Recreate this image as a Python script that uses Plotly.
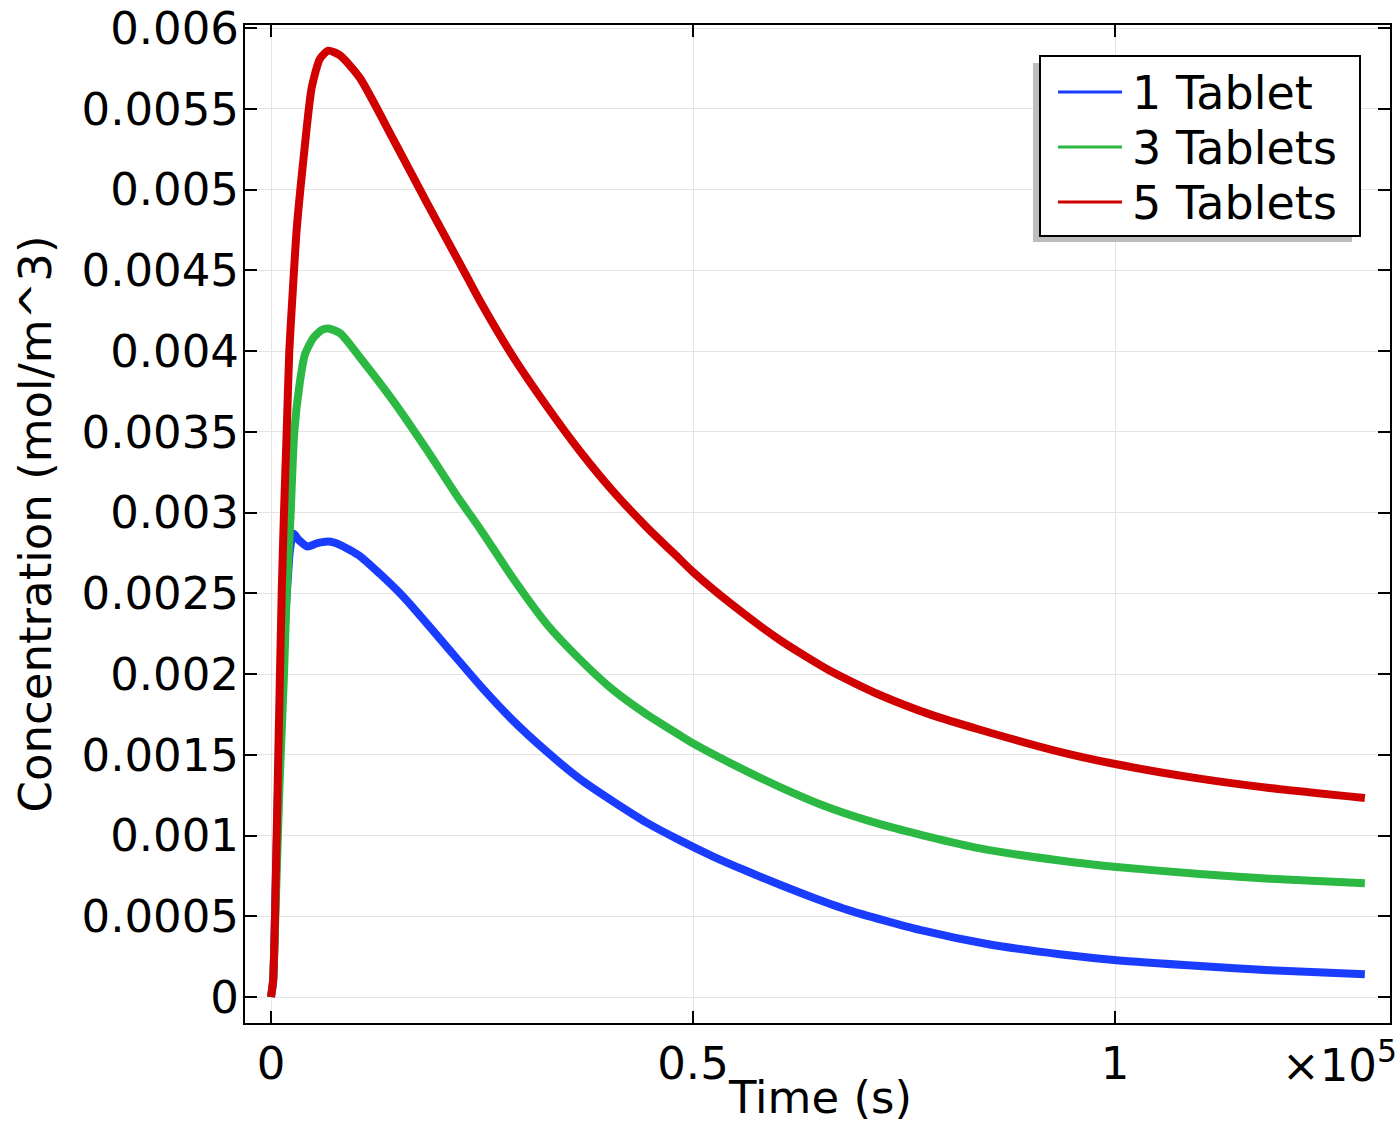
import plotly.graph_objects as go

# ---- data (time in s, concentration in mol/m^3) ----
t_red = [0, 250, 474, 865, 1268, 1540, 1860, 2168, 2520, 3040, 3830, 4820, 5800, 6790,
         8200, 10545, 14494, 18443, 22393, 24760, 28500, 32660, 36610, 40560, 44509,
         48460, 50040, 54380, 60306, 66230, 72154, 78080, 84000, 93460, 100170, 110030,
         118310, 129600]
c_red = [0, 0.0001, 0.0005, 0.0015, 0.0025, 0.0030, 0.0035, 0.0040, 0.00432, 0.00475,
         0.00518, 0.00563, 0.00581, 0.00586, 0.00583, 0.00569, 0.00531, 0.00492, 0.00454,
         0.00431, 0.00398, 0.00366, 0.00338, 0.00313, 0.00291, 0.00271, 0.00263, 0.00244,
         0.00221, 0.00202, 0.00187, 0.00175, 0.001655, 0.001518, 0.001441, 0.001352,
         0.001294, 0.001232]

t_green = [0, 250, 520, 1000, 1540, 1860, 2168, 2334, 2760, 3400, 4028, 5000, 6000, 6791,
           8200, 10545, 14494, 18443, 22200, 24760, 28712, 32661, 36610, 40560, 44509,
           48460, 50040, 54380, 60306, 66230, 72154, 78080, 84000, 93460, 100170, 110030,
           118310, 129600]
c_green = [0, 0.0001, 0.0005, 0.0013, 0.0020, 0.0025, 0.00282, 0.0030, 0.0035, 0.00380,
           0.00398, 0.00408, 0.00413, 0.00414, 0.00411, 0.00396, 0.00369, 0.00339, 0.00309,
           0.0029, 0.00259, 0.00231, 0.00209, 0.00190, 0.00175, 0.00162, 0.00157, 0.00145,
           0.00130, 0.00117, 0.00107, 0.00099, 0.00092, 0.000845, 0.000805, 0.000762,
           0.000732, 0.000704]

t_blue = [0, 250, 474, 900, 1350, 1750, 2000, 2251, 2646, 3300, 4300, 5500, 6791, 8175,
          10545, 12914, 15284, 16860, 20810, 24762, 28712, 32661, 36610, 40560, 44509,
          48460, 52400, 56357, 60306, 64255, 68600, 76880, 85170, 93460, 100170, 110030,
          118310, 129600]
c_blue = [0, 0.0001, 0.0005, 0.0014, 0.0020, 0.0024, 0.0026, 0.00277, 0.00287, 0.00283,
          0.00279, 0.00281, 0.00282, 0.00280, 0.00273, 0.00262, 0.00250, 0.00241, 0.00217,
          0.00193, 0.00171, 0.00152, 0.00135, 0.00121, 0.00108, 0.00097, 0.00087, 0.00078,
          0.000695, 0.000615, 0.000535, 0.000415, 0.000325, 0.000265, 0.000228, 0.000192,
          0.000166, 0.000141]

series_names = ["1 Tablet", "3 Tablets", "5 Tablets"]
series_colors = ["#1a3cff", "#2bb843", "#d10000"]

x_tickvals = [0, 50000, 100000]
x_ticktext = ["0", "0.5", "1"]
y_tickvals = [0, 0.0005, 0.001, 0.0015, 0.002, 0.0025, 0.003, 0.0035, 0.004, 0.0045,
              0.005, 0.0055, 0.006]
y_ticktext = ["0", "0.0005", "0.001", "0.0015", "0.002", "0.0025", "0.003", "0.0035",
              "0.004", "0.0045", "0.005", "0.0055", "0.006"]

FONT = "DejaVu Sans"
W, H = 1399, 1124
ML, MR, MT, MB = 245, 9, 25, 101
PW, PH = W - ML - MR, H - MT - MB


def px(x):
    return (x - ML) / PW


def py(y):
    return (H - MB - y) / PH


fig = go.Figure()
data = [(t_blue, c_blue), (t_green, c_green), (t_red, c_red)]
for (tx, cy), name, col in zip(data, series_names, series_colors):
    fig.add_trace(go.Scatter(x=tx, y=cy, mode="lines", name=name, showlegend=False,
                             line=dict(color=col, width=8, shape="spline", smoothing=0.6)))

axis_common = dict(showline=True, linecolor="black", linewidth=2, mirror="allticks",
                   ticks="inside", ticklen=12, tickwidth=2, tickcolor="black",
                   showgrid=True, gridcolor="#e4e4e4", gridwidth=1, zeroline=False,
                   automargin=False,
                   tickfont=dict(family=FONT, size=45, color="black"))

fig.update_xaxes(range=[-3080, 132580], tickvals=x_tickvals, ticktext=x_ticktext,
                 ticklabelstandoff=0, **axis_common)
fig.update_yaxes(range=[-0.000161, 0.006019], tickvals=y_tickvals, ticktext=y_ticktext,
                 ticklabelstandoff=-5,
                 title=dict(text="Concentration (mol/m^3)", standoff=16,
                            font=dict(family=FONT, size=45, color="black")),
                 **axis_common)

fig.add_annotation(text="Time (s)", xref="paper", yref="paper", x=px(820), y=py(1097),
                   xanchor="center", yanchor="middle", showarrow=False,
                   font=dict(family=FONT, size=45, color="black"))
fig.add_annotation(text="×10<sup>5</sup>", xref="paper", yref="paper", x=px(1399),
                   y=py(1062), xanchor="right", yanchor="middle", showarrow=False,
                   font=dict(family=FONT, size=45, color="black"))

# legend (drawn manually to match the box geometry)
fig.add_shape(type="rect", xref="paper", yref="paper", x0=px(1033), x1=px(1352),
              y0=py(242), y1=py(63), fillcolor="#bdbdbd", line=dict(width=0), layer="above")
fig.add_shape(type="rect", xref="paper", yref="paper", x0=px(1040), x1=px(1360),
              y0=py(236), y1=py(56), fillcolor="white", line=dict(color="black", width=2),
              layer="above")
for i, (name, col) in enumerate(zip(series_names, series_colors)):
    yc = 92 + 55 * i
    fig.add_shape(type="line", xref="paper", yref="paper", x0=px(1058), x1=px(1122),
                  y0=py(yc), y1=py(yc), line=dict(color=col, width=3), layer="above")
    fig.add_annotation(text=name, xref="paper", yref="paper", x=px(1130), y=py(yc + 1),
                       xanchor="left", yanchor="middle", showarrow=False,
                       font=dict(family=FONT, size=46, color="black"))

fig.update_layout(
    width=W, height=H,
    margin=dict(l=ML, r=MR, t=MT, b=MB),
    paper_bgcolor="white", plot_bgcolor="white",
    font=dict(family=FONT, size=45, color="black"),
    showlegend=False,
)

fig.write_html("out.html", config={"displayModeBar": False},
               post_script="document.body.style.margin='0';document.body.style.overflow='hidden';")
